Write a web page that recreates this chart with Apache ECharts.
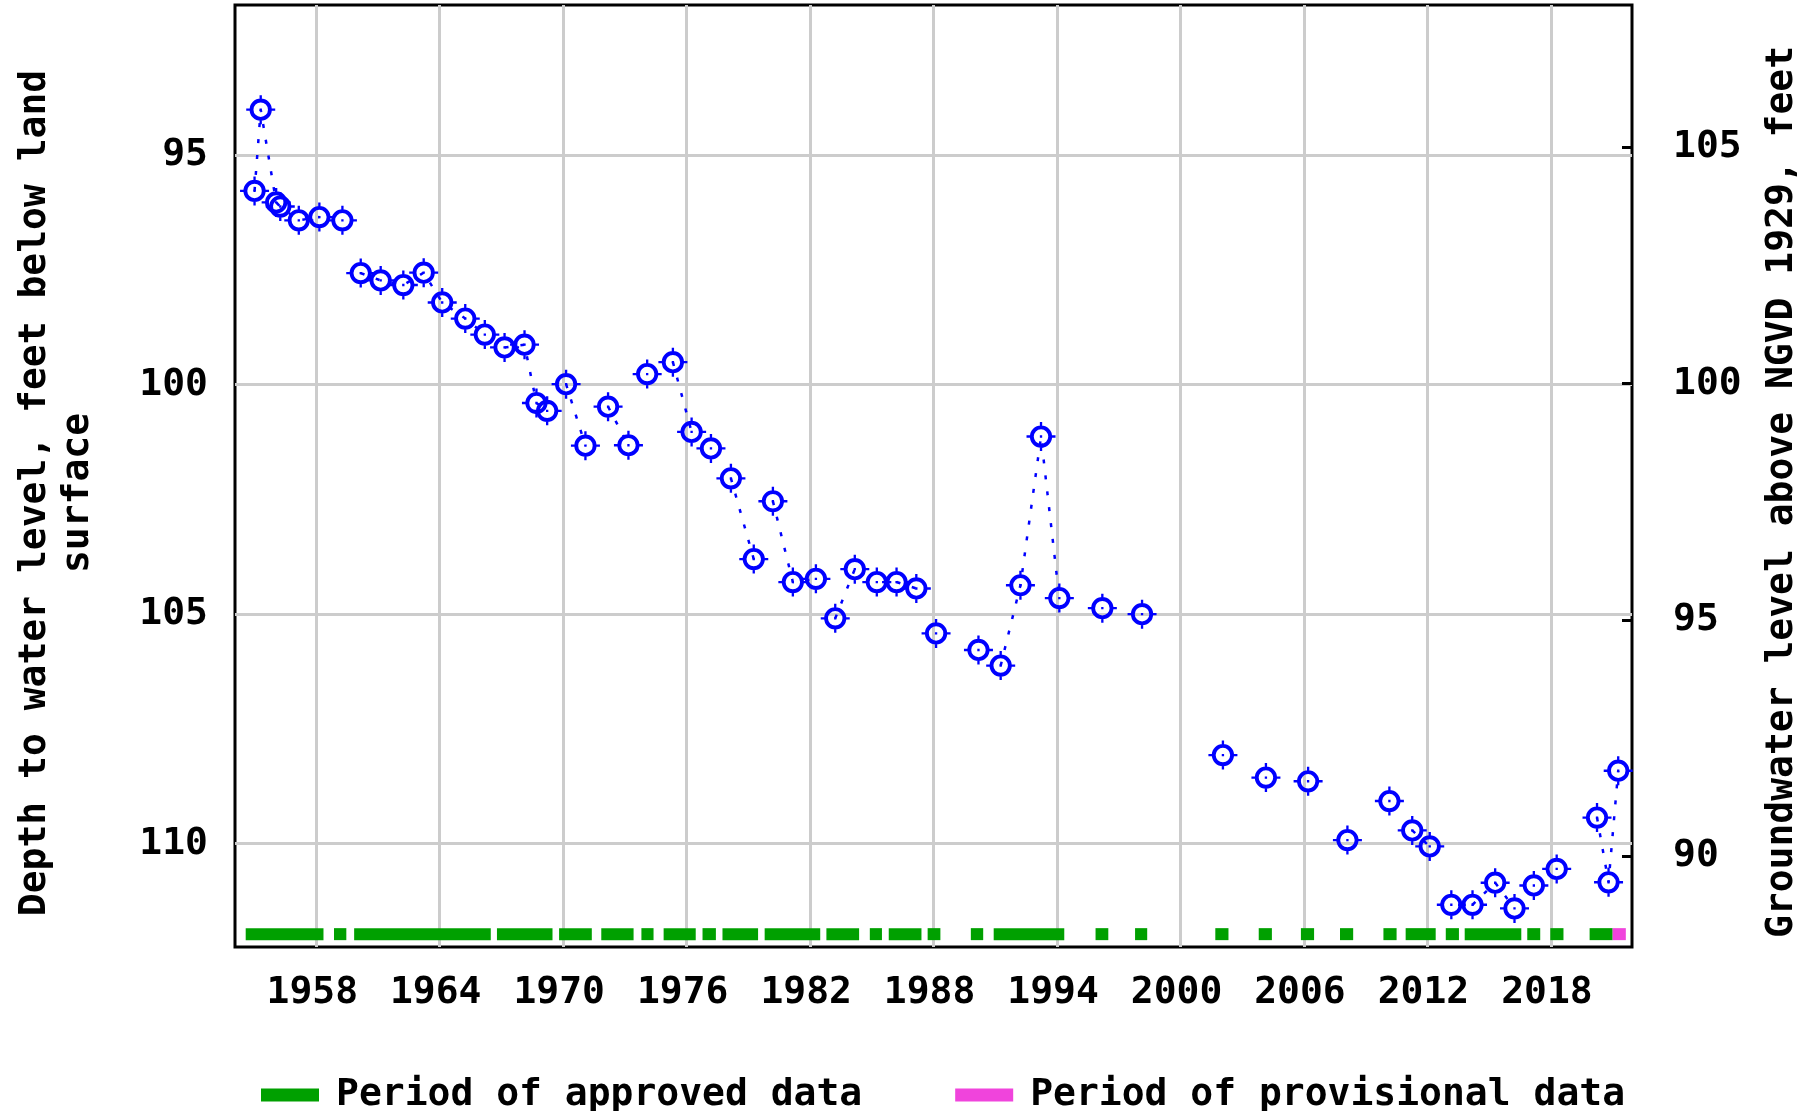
<!DOCTYPE html>
<html>
<head>
<meta charset="utf-8">
<script src="https://cdn.jsdelivr.net/npm/echarts@6/dist/echarts.min.js"></script>
<style>html,body{margin:0;padding:0;background:#fff}#chart{width:1818px;height:1111px}</style>
</head>
<body>
<div id="chart"></div>
<script>
// ---------------- data ----------------
const years = [1955.0, 1955.3, 1956.05, 1956.25, 1957.15, 1958.15, 1959.27, 1960.16, 1961.13, 1962.23,
  1963.22, 1964.12, 1965.24, 1966.19, 1967.15, 1968.12, 1968.70, 1969.22, 1970.14, 1971.08,
  1972.18, 1973.17, 1974.08, 1975.33, 1976.24, 1977.18, 1978.15, 1979.26, 1980.19, 1981.16,
  1982.28, 1983.22, 1984.17, 1985.24, 1986.20, 1987.16, 1988.12, 1990.18, 1991.26, 1992.22,
  1993.22, 1994.11, 1996.20, 1998.13, 2002.06, 2004.15, 2006.20, 2008.11, 2010.15, 2011.26,
  2012.11, 2013.16, 2014.19, 2015.29, 2016.23, 2017.17, 2018.28, 2020.24, 2020.80, 2021.27];
const depths = [95.78, 94.01, 96.03, 96.12, 96.42, 96.35, 96.42, 97.57, 97.73, 97.83,
  97.56, 98.21, 98.56, 98.91, 99.19, 99.13, 100.40, 100.57, 99.99, 101.33,
  100.48, 101.32, 99.77, 99.51, 101.03, 101.39, 102.04, 103.80, 102.54, 104.30,
  104.23, 105.09, 104.02, 104.30, 104.30, 104.44, 105.42, 105.78, 106.12, 104.37,
  101.13, 104.65, 104.87, 105.00, 108.07, 108.56, 108.64, 109.92, 109.07, 109.71,
  110.06, 111.33, 111.33, 110.85, 111.41, 110.91, 110.55, 109.43, 110.84, 108.41];
const approvedPeriods = [[1954.57,1958.35],[1958.86,1959.46],[1959.84,1966.48],[1966.78,1969.48],
  [1969.80,1971.39],[1971.85,1973.42],[1973.80,1974.39],[1974.88,1976.44],[1976.77,1977.42],
  [1977.74,1979.47],[1979.79,1982.49],[1982.79,1984.38],[1984.90,1985.49],[1985.82,1987.41],
  [1987.71,1988.33],[1989.81,1990.41],[1990.92,1994.35],[1995.87,1996.49],[1997.79,1998.38],
  [2001.69,2002.33],[2003.80,2004.44],[2005.85,2006.49],[2007.75,2008.39],[2009.86,2010.50],
  [2010.94,2012.40],[2012.89,2013.53],[2013.81,2016.56],[2016.85,2017.48],[2017.97,2018.61],
  [2019.88,2021.00]];
const provisionalPeriods = [[2021.00,2021.64]];
const yearTicks = [1958, 1964, 1970, 1976, 1982, 1988, 1994, 2000, 2006, 2012, 2018];
const depthTicks = [95, 100, 105, 110];
const elevationTicks = [90, 95, 100, 105];

// ---------------- styling constants ----------------
const FONT = 'DejaVu Sans Mono';
const BAR_DEPTH = 111.97;   // vertical level of the period bars (left axis units)
const BAR_HEIGHT = 12;

// ---------------- derived ----------------
const points = years.map((y, i) => [y, depths[i]]);
const allPeriods = approvedPeriods.concat(provisionalPeriods).slice().sort((a, b) => a[0] - b[0]);
const merged = [];
allPeriods.forEach(p => {
  const last = merged[merged.length - 1];
  if (last && p[0] <= last[1] + 1e-6) last[1] = Math.max(last[1], p[1]);
  else merged.push([p[0], p[1]]);
});
function periodIndex(x) {
  for (let i = 0; i < merged.length; i++) if (x >= merged[i][0] && x <= merged[i][1]) return i;
  return -1;
}
const lineData = [];
points.forEach((p, i) => {
  if (i > 0) {
    const a = periodIndex(points[i - 1][0]), b = periodIndex(p[0]);
    if (a !== b || a < 0) lineData.push([(points[i - 1][0] + p[0]) / 2, null]);
  }
  lineData.push(p);
});

const markerPath = 'path://M3.5 15A11.5 11.5 0 1 1 26.5 15A11.5 11.5 0 1 1 3.5 15Z' +
  'M7.5 15A7.5 7.5 0 1 0 22.5 15A7.5 7.5 0 1 0 7.5 15Z' +
  'M13.8 0H16.2V4H13.8Z M13.8 26H16.2V30H13.8Z M0 13.8H4V16.2H0Z M26 13.8H30V16.2H26Z' +
  'M13.8 13.8H16.2V16.2H13.8Z';

function periodRender(color) {
  return function (params, api) {
    const s = api.coord([api.value(0), BAR_DEPTH]);
    const e = api.coord([api.value(1), BAR_DEPTH]);
    return {
      type: 'rect',
      shape: { x: s[0], y: s[1] - BAR_HEIGHT / 2, width: e[0] - s[0], height: BAR_HEIGHT },
      style: { fill: color }
    };
  };
}

const chart = echarts.init(document.getElementById('chart'), null, { renderer: 'canvas' });
const textBase = { fontFamily: FONT, fontWeight: 'bold', color: '#000' };

chart.setOption({
  animation: false,
  backgroundColor: '#fff',
  grid: { left: 235, right: 186, top: 5, bottom: 164, show: true, borderColor: '#000', borderWidth: 3, containLabel: false },
  legend: {
    left: 256, top: 1071, itemWidth: 58, itemHeight: 13, itemGap: 93, icon: 'rect',
    textStyle: Object.assign({}, textBase, { fontSize: 38, padding: [0, 0, 0, 12] }),
    data: ['Period of approved data', 'Period of provisional data']
  },
  xAxis: {
    type: 'value', min: 1954.05, max: 2021.94,
    axisLine: { show: false },
    axisTick: { show: false, customValues: yearTicks },
    axisLabel: Object.assign({}, textBase, { customValues: yearTicks, fontSize: 38, margin: 27, padding: [0, 8, 0, 0], formatter: v => String(v) }),
    splitLine: { show: true, lineStyle: { color: '#cccccc', width: 3 } }
  },
  yAxis: [{
    type: 'value', inverse: true, min: 91.73, max: 112.25, position: 'left',
    name: 'Depth to water level, feet below land\nsurface',
    nameLocation: 'middle', nameRotate: 90, nameGap: 135,
    nameTextStyle: Object.assign({}, textBase, { fontSize: 38, lineHeight: 43, align: 'center', padding: [0, 34, 0, 0] }),
    axisLine: { show: false },
    axisTick: { show: false, customValues: depthTicks },
    axisLabel: Object.assign({}, textBase, { customValues: depthTicks, fontSize: 38, margin: 27 }),
    splitLine: { show: true, lineStyle: { color: '#cccccc', width: 3 } }
  }, {
    type: 'value', min: 88.07, max: 108.02, position: 'right',
    name: 'Groundwater level above NGVD 1929, feet',
    nameLocation: 'middle', nameRotate: 90, nameGap: 131,
    nameTextStyle: Object.assign({}, textBase, { fontSize: 38, padding: [0, 32, 0, 0] }),
    axisLine: { show: false },
    axisTick: { show: true, inside: true, length: 10, customValues: elevationTicks, lineStyle: { color: '#000', width: 3 } },
    axisLabel: Object.assign({}, textBase, { customValues: elevationTicks, fontSize: 38, margin: 41 }),
    splitLine: { show: false }
  }],
  series: [{
    name: 'Period of approved data', type: 'custom', xAxisIndex: 0, yAxisIndex: 0,
    itemStyle: { color: '#00a000' }, dimensions: ['start', 'end'], encode: { x: [0, 1] },
    renderItem: periodRender('#00a000'), data: approvedPeriods, z: 2
  }, {
    name: 'Period of provisional data', type: 'custom', xAxisIndex: 0, yAxisIndex: 0,
    itemStyle: { color: '#f044dc' }, dimensions: ['start', 'end'], encode: { x: [0, 1] },
    renderItem: periodRender('#f044dc'), data: provisionalPeriods, z: 2
  }, {
    name: 'segments', type: 'line', xAxisIndex: 0, yAxisIndex: 0, data: lineData,
    showSymbol: false, symbol: 'none', connectNulls: false,
    lineStyle: { color: '#0000ff', width: 2.5, type: [4, 12] }, z: 3
  }, {
    name: 'levels', type: 'scatter', xAxisIndex: 0, yAxisIndex: 0, data: points,
    symbol: markerPath, symbolSize: 29, symbolKeepAspect: true,
    itemStyle: { color: '#0000ff', opacity: 1 }, z: 4
  }]
});
</script>
</body>
</html>
